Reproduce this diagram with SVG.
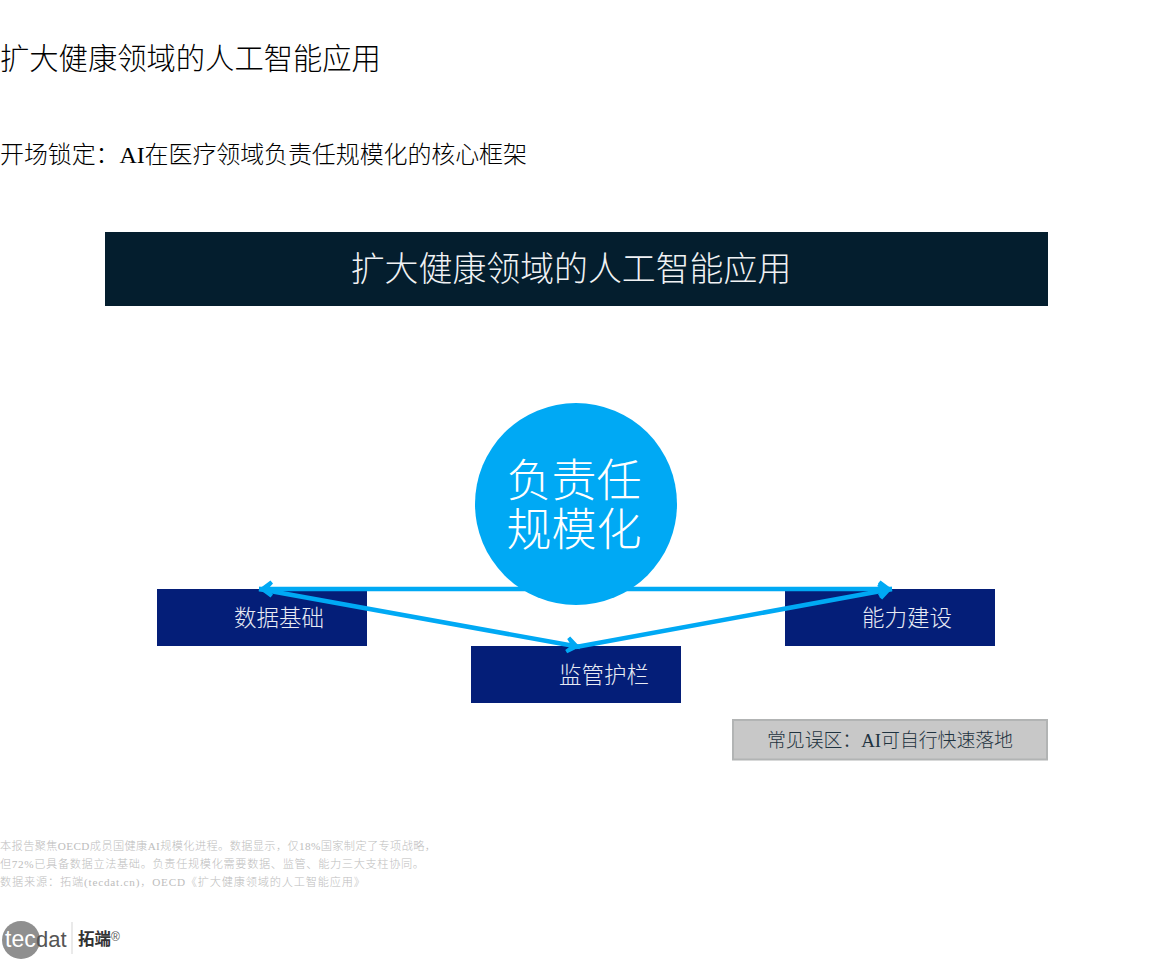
<svg xmlns="http://www.w3.org/2000/svg" width="1152" height="960" viewBox="0 0 1152 960">
<style>
text{font-family:"Liberation Serif","Noto Sans CJK SC",serif;font-weight:300}
tspan.l{font-weight:400}
.lb{fill:#e8ebf4;font-size:22.5px;text-anchor:middle}
.nd{fill:#041e78}
.cn{stroke:#00a9f4;stroke-width:4.500;fill:none;marker-end:url(#ah)}
.fn{fill:#bdbdbd;font-size:11.200px}
text.lg{font-family:"Liberation Sans",sans-serif;font-weight:400}
</style>
<defs>
<marker id="ah" markerUnits="userSpaceOnUse" markerWidth="20" markerHeight="20" refX="15" refY="10" orient="auto">
<path d="M3.500 1.500L15 10L3.500 18.500L1 15.500L6 10L1 4.500Z" fill="#00a9f4"/>
</marker>
</defs>
<text x="0" y="69" font-size="29.3" fill="#000">扩大健康领域的人工智能应用</text>
<text x="0" y="163" font-size="24" fill="#000" textLength="527">开场锁定：<tspan class="l">AI</tspan>在医疗领域负责任规模化的核心框架</text>
<g id="banner"><rect x="105" y="232" width="943" height="74" fill="#041e2e"/>
<text x="571" y="281" font-size="33.9" fill="#f0f2f4" text-anchor="middle">扩大健康领域的人工智能应用</text></g>
<g id="node-data"><rect class="nd" x="157" y="589" width="210" height="57"/><text class="lb" x="279" y="626">数据基础</text></g>
<g id="node-guard"><rect class="nd" x="471" y="646" width="210" height="57"/><text class="lb" x="604" y="683">监管护栏</text></g>
<g id="node-capacity"><rect class="nd" x="785" y="589" width="210" height="57"/><text class="lb" x="907" y="626">能力建设</text></g>
<g id="connectors">
<line class="cn" x1="576" y1="589" x2="259" y2="589"/>
<line class="cn" x1="576" y1="589" x2="892" y2="589"/>
<line class="cn" x1="259" y1="589" x2="580" y2="647"/>
<line class="cn" x1="576" y1="647" x2="892" y2="589"/>
</g>
<g id="node-core"><circle cx="576" cy="504" r="101" fill="#00a9f4"/>
<text x="574" y="497" font-size="45" fill="#fff" text-anchor="middle">负责任</text>
<text x="574" y="546" font-size="45" fill="#fff" text-anchor="middle">规模化</text></g>
<g id="callout"><rect x="733" y="720" width="314" height="39.500" fill="#c8c8c8" stroke="#b2b4b4" stroke-width="2"/>
<text x="767" y="747" font-size="18.900" fill="#1f3340" textLength="246">常见误区：<tspan class="l">AI</tspan>可自行快速落地</text></g>
<g id="footnote">
<text class="fn" x="0" y="850" textLength="436">本报告聚焦<tspan class="l">OECD</tspan>成员国健康<tspan class="l">AI</tspan>规模化进程。数据显示，仅<tspan class="l">18%</tspan>国家制定了专项战略，</text>
<text class="fn" x="0" y="868" textLength="424">但<tspan class="l">72%</tspan>已具备数据立法基础。负责任规模化需要数据、监管、能力三大支柱协同。</text>
<text class="fn" x="0" y="886" textLength="365">数据来源：拓端<tspan class="l">(tecdat.cn)</tspan>，<tspan class="l">OECD</tspan>《扩大健康领域的人工智能应用》</text>
</g>
<g id="logo">
<circle cx="21" cy="940" r="19" fill="#8f8f8f"/>
<text class="lg" x="5" y="947" font-size="23" fill="#fff">tec</text>
<text class="lg" x="36" y="947" font-size="22" fill="#555">dat</text>
<line x1="72" y1="922" x2="72" y2="954" stroke="#d5d5d5" stroke-width="1"/>
<text x="78" y="945" font-size="16.500" fill="#333" style="font-family:'Noto Sans CJK SC',sans-serif;font-weight:700">拓端</text>
<text class="lg" x="111" y="941" font-size="12" fill="#555">®</text>
</g>
</svg>
